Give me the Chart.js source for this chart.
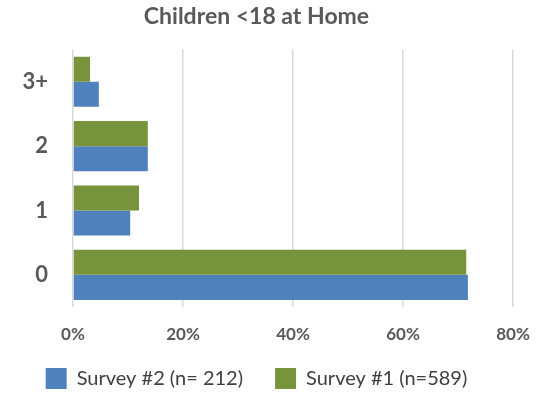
<!DOCTYPE html>
<html>
<head>
<meta charset="utf-8">
<script src="https://cdn.jsdelivr.net/npm/chart.js@4"></script>
<style>
  html, body { margin: 0; padding: 0; background: #fff; }
</style>
</head>
<body>
<canvas id="chart" width="555" height="394"></canvas>
<script>
// values (share of respondents)
const categories = ['0', '1', '2', '3+'];
const survey2 = [0.718, 0.104, 0.136, 0.047];
const survey1 = [0.715, 0.120, 0.136, 0.031];
const xTicks = [0, 0.2, 0.4, 0.6, 0.8];

const grey = '#595959';
const fontFamily = 'Lato, "Open Sans", sans-serif';

new Chart(document.getElementById('chart'), {
  type: 'bar',
  data: {
    labels: categories,
    // green first so it sits on top inside each group
    datasets: [
      {
        label: 'Survey #1 (n=589)',
        data: survey1,
        backgroundColor: '#77933C',
        categoryPercentage: 0.78,
        barPercentage: 1.0
      },
      {
        label: 'Survey #2 (n= 212)',
        data: survey2,
        backgroundColor: '#4F81BD',
        categoryPercentage: 0.78,
        barPercentage: 1.0
      }
    ]
  },
  options: {
    indexAxis: 'y',
    responsive: false,
    animation: false,
    layout: { padding: { left: 0, right: 42, top: 0, bottom: -5 } },
    scales: {
      y: {
        reverse: true,
        grid: { display: false },
        border: { display: false },
        ticks: {
          color: grey,
          padding: 17,
          font: { family: fontFamily, size: 22, weight: 'bold' }
        },
        afterFit: (s) => { s.width = 73; }
      },
      x: {
        min: 0,
        max: 0.8,
        grid: { color: '#d9d9d9', lineWidth: 1.5, drawTicks: false },
        border: { display: false },
        afterBuildTicks: (s) => { s.ticks = xTicks.map(v => ({ value: v })); },
        ticks: {
          color: grey,
          mirror: true,
          padding: -38,
          font: { family: fontFamily, size: 17, weight: 'bold' },
          callback: (v) => Math.round(v * 100) + '%'
        },
        afterFit: (s) => { s.height = 29; }
      }
    },
    plugins: {
      title: {
        display: true,
        text: 'Children <18 at Home',
        color: grey,
        font: { family: fontFamily, size: 23, weight: 'bold' },
        padding: { top: 3, bottom: 19 }
      },
      legend: {
        position: 'bottom',
        reverse: true,
        labels: {
          boxWidth: 21,
          boxHeight: 21,
          padding: 32,
          color: '#404040',
          font: { family: fontFamily, size: 20 }
        }
      },
      tooltip: { enabled: false }
    }
  }
});
</script>
</body>
</html>
